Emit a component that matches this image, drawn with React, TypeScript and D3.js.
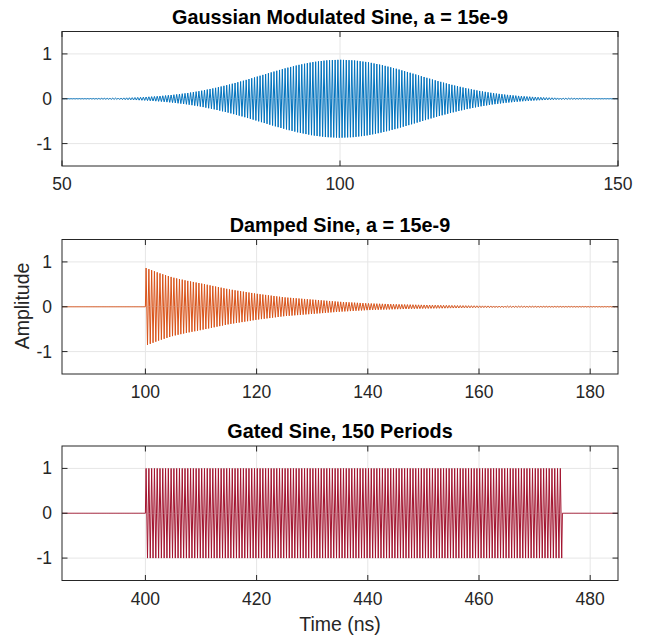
import React from "react";
import * as d3 from "d3";

// ---- data ----
const TITLES = ["Gaussian Modulated Sine, a = 15e-9", "Damped Sine, a = 15e-9", "Gated Sine, 150 Periods"];
const COLORS = ["#0072BD", "#D95319", "#A2142F"];
const X_DOMAINS: [number, number][] = [[50, 150], [85, 185], [385, 485]];
const X_TICKS = [[50, 100, 150], [100, 120, 140, 160, 180], [400, 420, 440, 460, 480]];
const Y_TICKS = [-1, 0, 1];
const Y_DOMAIN: [number, number] = [-1.5, 1.5];

// envelopes (amplitude of the oscillation)
const GAUSS_ENV_T = [50, 55, 60, 62.5, 65, 67.5, 70, 72.5, 75, 77.5, 80, 82.5, 85, 87.5, 90, 92.5, 95, 97.5, 100,
  102.5, 105, 107.5, 110, 112.5, 115, 117.5, 120, 122.5, 125, 127.5, 130, 132.5, 135, 137.5, 140, 145, 150];
const GAUSS_ENV_A = [0.0015, 0.005, 0.015, 0.024, 0.038, 0.059, 0.088, 0.126, 0.177, 0.24, 0.314, 0.398, 0.49, 0.584, 0.674, 0.753, 0.816, 0.856, 0.87,
  0.856, 0.816, 0.753, 0.674, 0.584, 0.49, 0.398, 0.314, 0.24, 0.177, 0.126, 0.088, 0.059, 0.038, 0.024, 0.015, 0.005, 0.0015];

const DAMP_ENV_T = [85, 99.99, 100, 102.5, 105, 107.5, 110, 115, 120, 125, 130, 135, 140, 145, 150, 155, 160, 170, 185];
const DAMP_ENV_A = [0, 0, 0.87, 0.75, 0.65, 0.58, 0.52, 0.39, 0.29, 0.21, 0.16, 0.11, 0.075, 0.055, 0.04, 0.03, 0.02, 0.01, 0.004];

const GATE_ENV_T = [385, 399.99, 400, 475, 475.01, 485];
const GATE_ENV_A = [0, 0, 1, 1, 0, 0];

const CARRIER_GHZ = 2; // 150 periods in 75 ns
const SAMPLE_NS = 0.125;

const ENVS = [
  [GAUSS_ENV_T, GAUSS_ENV_A],
  [DAMP_ENV_T, DAMP_ENV_A],
  [GATE_ENV_T, GATE_ENV_A],
];

// ---- layout ----
const W = 647, H = 637;
const LEFT = 62, RIGHT = 618;
const PANEL_TOPS = [31.5, 239.5, 446];
const PANEL_H = 134.5;
const FONT = "'Liberation Sans', Arial, Helvetica, sans-serif";
const AX = "#262626";
const GRID = "#e6e6e6";
const TICK_LEN = 5.5;

function Panel({ i }: { i: number }) {
  const top = PANEL_TOPS[i];
  const bottom = top + PANEL_H;
  const x = d3.scaleLinear().domain(X_DOMAINS[i]).range([LEFT, RIGHT]);
  const y = d3.scaleLinear().domain(Y_DOMAIN).range([bottom, top]);
  const [et, ea] = ENVS[i];
  const env = d3.scaleLinear().domain(et).range(ea).clamp(true);
  const [x0, x1] = X_DOMAINS[i];
  const n = Math.round((x1 - x0) / SAMPLE_NS);
  const pts: [number, number][] = d3.range(n + 1).map((k) => {
    const t = x0 + k * SAMPLE_NS;
    const s = Math.sin(2 * Math.PI * CARRIER_GHZ * t);
    return [t, env(t) * (Math.abs(s) < 1e-9 ? 0 : s)];
  });
  const line = d3.line<[number, number]>().x((d) => x(d[0])).y((d) => y(d[1]));
  const clipId = `clip${i}`;
  return (
    <g>
      <defs>
        <clipPath id={clipId}>
          <rect x={LEFT} y={top} width={RIGHT - LEFT} height={PANEL_H} />
        </clipPath>
      </defs>
      <rect x={LEFT} y={top} width={RIGHT - LEFT} height={PANEL_H} fill="#fff" />
      {/* grid */}
      {X_TICKS[i].map((t) => (
        <line key={"gx" + t} x1={x(t)} x2={x(t)} y1={top} y2={bottom} stroke={GRID} strokeWidth={1} />
      ))}
      {Y_TICKS.map((t) => (
        <line key={"gy" + t} x1={LEFT} x2={RIGHT} y1={y(t)} y2={y(t)} stroke={GRID} strokeWidth={1} />
      ))}
      {/* signal */}
      <path d={line(pts) || ""} fill="none" stroke={COLORS[i]} strokeWidth={1} clipPath={`url(#${clipId})`} />
      {/* box */}
      <rect x={LEFT} y={top} width={RIGHT - LEFT} height={PANEL_H} fill="none" stroke={AX} strokeWidth={1} />
      {/* ticks */}
      {X_TICKS[i].map((t) => (
        <g key={"tx" + t}>
          <line x1={x(t)} x2={x(t)} y1={bottom} y2={bottom - TICK_LEN} stroke={AX} />
          <line x1={x(t)} x2={x(t)} y1={top} y2={top + TICK_LEN} stroke={AX} />
          <text x={x(t)} y={bottom + 24} textAnchor="middle" fontSize={17.5} fill={AX} fontFamily={FONT}>{t}</text>
        </g>
      ))}
      {Y_TICKS.map((t) => (
        <g key={"ty" + t}>
          <line x1={LEFT} x2={LEFT + TICK_LEN} y1={y(t)} y2={y(t)} stroke={AX} />
          <line x1={RIGHT} x2={RIGHT - TICK_LEN} y1={y(t)} y2={y(t)} stroke={AX} />
          <text x={LEFT - 10} y={y(t) + 6} textAnchor="end" fontSize={17.5} fill={AX} fontFamily={FONT}>{t}</text>
        </g>
      ))}
      <text x={(LEFT + RIGHT) / 2} y={top - 8} textAnchor="middle" fontSize={19.8} fontWeight="bold" fill="#000" fontFamily={FONT}>
        {TITLES[i]}
      </text>
    </g>
  );
}

export default function App() {
  return (
    <svg width={W} height={H} style={{ display: "block", position: "absolute", left: 0, top: 0, background: "#fff" }}>
      <rect width={W} height={H} fill="#fff" />
      {[0, 1, 2].map((i) => (
        <Panel key={i} i={i} />
      ))}
      <text transform={`translate(29,306) rotate(-90)`} textAnchor="middle" fontSize={19.5} fill={AX} fontFamily={FONT}>
        Amplitude
      </text>
      <text x={(LEFT + RIGHT) / 2} y={631} textAnchor="middle" fontSize={19.5} fill={AX} fontFamily={FONT}>
        Time (ns)
      </text>
    </svg>
  );
}
